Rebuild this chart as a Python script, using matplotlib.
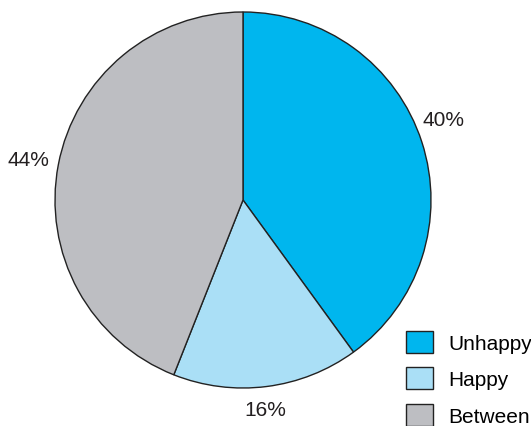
import numpy as np
import matplotlib.pyplot as plt

plt.rcParams['font.family'] = ['Liberation Sans', 'DejaVu Sans']

# Data
labels = ['Unhappy', 'Happy', 'Between']
shares = [40, 16, 44]
colors = ['#00b6ee', '#aadff6', '#bdbec2']

fig = plt.figure(figsize=(5.31, 4.27), dpi=100)
ax = fig.add_axes([0, 0, 1, 1])

cx, cy, r = 243, 226, 188
wedges, texts, autotexts = ax.pie(
    shares, colors=colors, startangle=90, counterclock=False,
    center=(cx, cy), radius=r, frame=True,
    autopct='%d%%', pctdistance=1.14,
    wedgeprops=dict(edgecolor='#222222', linewidth=1.0),
    textprops=dict(fontsize=15, color='#231f20'))

# nudge percentage labels (angle offset in degrees, distance factor)
nudges = [(4, 1.15), (-1, 1.12), (0, 1.16)]
for t, (dang, dist) in zip(autotexts, nudges):
    x, y = t.get_position()
    ang = np.arctan2(y - cy, x - cx) + np.radians(dang)
    t.set_position((cx + dist * r * np.cos(ang), cy + dist * r * np.sin(ang)))

ax.set_xlim(0, 531)
ax.set_ylim(0, 427)
ax.set_aspect('equal')
ax.axis('off')

leg = ax.legend(wedges, labels, loc='lower left',
                bbox_to_anchor=(406 / 531, 0.0),
                frameon=False, fontsize=15, handlelength=1.3, handleheight=1.25,
                handletextpad=0.72, labelspacing=0.7, borderpad=0, borderaxespad=0)
for h in leg.legend_handles:
    h.set_edgecolor('#222222')
    h.set_linewidth(1.0)

plt.savefig('out.png', dpi=100)
